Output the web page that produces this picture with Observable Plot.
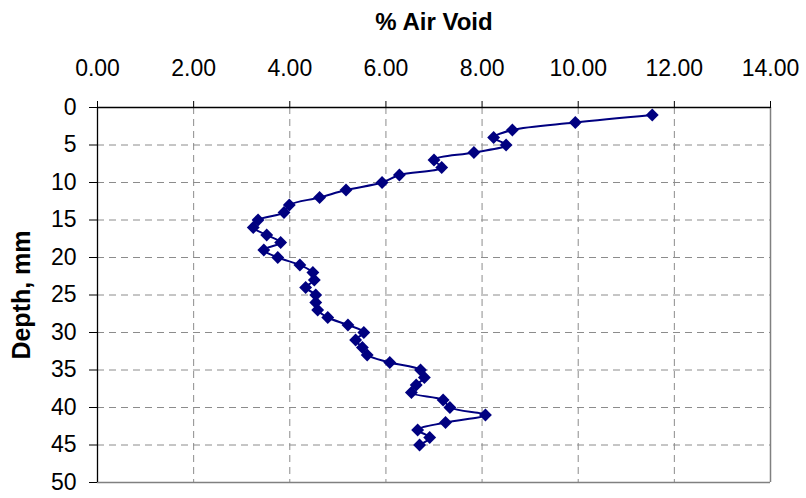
<!DOCTYPE html>
<html>
<head>
<meta charset="utf-8">
<script src="https://cdn.jsdelivr.net/npm/d3@7"></script>
<script src="https://cdn.jsdelivr.net/npm/@observablehq/plot@0.6"></script>
<style>
  html, body { margin: 0; padding: 0; background: #fff; }
  #chart svg { display: block; }
</style>
</head>
<body>
<div id="chart"></div>
<script>
const depth = [1, 2, 3, 4, 5, 6, 7, 8, 9, 10, 11, 12, 13, 14, 15, 16, 17, 18, 19, 20, 21, 22, 23, 24, 25, 26, 27, 28, 29, 30, 31, 32, 33, 34, 35, 36, 37, 38, 39, 40, 41, 42, 43, 44, 45];
const airVoid = [11.54, 9.94, 8.63, 8.24, 8.50, 7.83, 7.00, 7.16, 6.28, 5.92, 5.17, 4.62, 3.99, 3.88, 3.34, 3.24, 3.52, 3.81, 3.46, 3.75, 4.21, 4.48, 4.51, 4.33, 4.54, 4.54, 4.58, 4.79, 5.21, 5.54, 5.37, 5.51, 5.61, 6.08, 6.72, 6.80, 6.63, 6.53, 7.19, 7.33, 8.07, 7.24, 6.66, 6.91, 6.70];
const xTicks = [0, 2, 4, 6, 8, 10, 12, 14];
const yTicks = [0, 5, 10, 15, 20, 25, 30, 35, 40, 45, 50];
const xTitle = "% Air Void";
const yTitle = "Depth, mm";

const data = depth.map((d, i) => ({depth: d, av: airVoid[i]}));
const navy = "#000080";
const font = "'Liberation Sans', Arial, sans-serif";

const chart = Plot.plot({
  width: 806,
  height: 498,
  marginLeft: 97,
  marginRight: 36,
  marginTop: 107,
  marginBottom: 16,
  style: {fontFamily: font, fontSize: "23px", color: "#000", background: "#fff"},
  x: {domain: [0, 14]},
  y: {domain: [0, 50], reverse: true},
  marks: [
    Plot.gridX(xTicks.slice(1, -1), {stroke: "#8c8c8c", strokeOpacity: 1, strokeDasharray: "7,5", strokeWidth: 1}),
    Plot.gridY(yTicks.slice(1, -1), {stroke: "#8c8c8c", strokeOpacity: 1, strokeDasharray: "7,5", strokeWidth: 1}),
    Plot.ruleX([14], {stroke: "#808080", strokeWidth: 1.5}),
    Plot.ruleY([50], {stroke: "#808080", strokeWidth: 1.5}),
    Plot.ruleX([0], {stroke: "#000", strokeWidth: 1.3}),
    Plot.ruleY([0], {stroke: "#000", strokeWidth: 1.3}),
    Plot.axisX(xTicks, {anchor: "top", tickSize: 7, tickPadding: 25, tickFormat: d => d.toFixed(2), label: null, fontSize: 23, stroke: "#000"}),
    Plot.axisY(yTicks, {anchor: "left", tickSize: 8, tickPadding: 13, label: null, fontSize: 23, stroke: "#000"}),
    Plot.line(data, {x: "av", y: "depth", curve: "catmull-rom", stroke: navy, strokeWidth: 2}),
    Plot.dot(data, {x: "av", y: "depth", symbol: "diamond2", r: 5.8, fill: navy, stroke: "none"}),
    Plot.text([xTitle], {frameAnchor: "top", dy: -78, lineAnchor: "bottom", textAnchor: "middle", fontWeight: "bold", fontSize: 24, fill: "#000"}),
    Plot.text([yTitle], {frameAnchor: "left", dx: -76, rotate: -90, lineAnchor: "middle", textAnchor: "middle", fontWeight: "bold", fontSize: 25, fill: "#000"})
  ]
});
document.getElementById("chart").appendChild(chart);
</script>
</body>
</html>
